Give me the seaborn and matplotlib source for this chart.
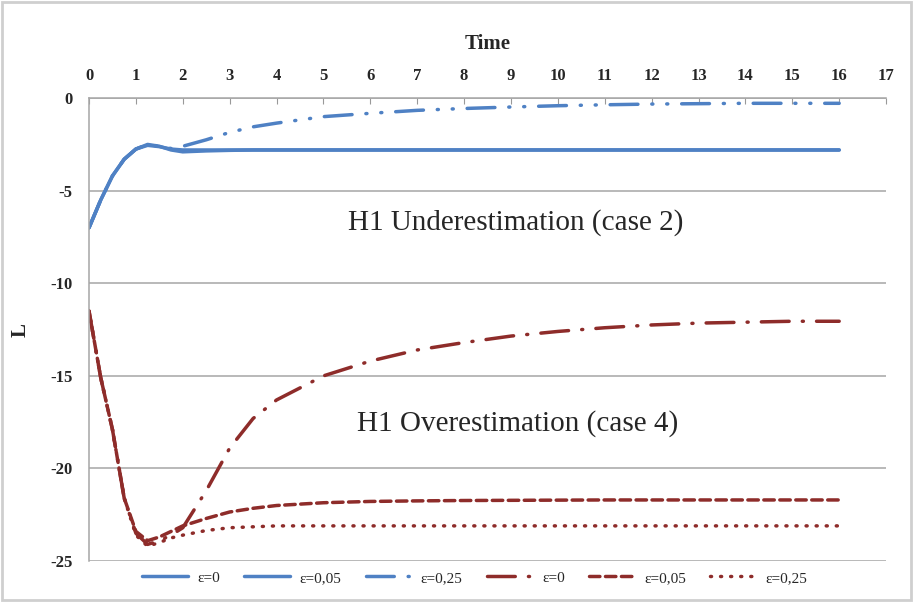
import pandas as pd
import matplotlib.pyplot as plt
import seaborn as sns
from matplotlib.patches import Rectangle

sns.set_style("white")
plt.rcParams['font.family'] = ['Liberation Serif', 'DejaVu Serif']
plt.rcParams['axes.unicode_minus'] = False

# values
time_pts = [0, 0.25, 0.5, 0.75, 1.0, 1.25, 1.5, 1.75, 2, 2.5, 3, 3.5, 4,
            5, 6, 7, 8, 9, 10, 11, 12, 13, 14, 15, 16]

under_eps0 = [-7.0, -5.5, -4.2, -3.3, -2.75, -2.5, -2.6, -2.8, -2.9, -2.85, -2.82, -2.8, -2.8,
              -2.8, -2.8, -2.8, -2.8, -2.8, -2.8, -2.8, -2.8, -2.8, -2.8, -2.8, -2.8]
under_eps005 = [-7.0, -5.5, -4.2, -3.3, -2.75, -2.55, -2.62, -2.75, -2.8, -2.8, -2.8, -2.8, -2.8,
                -2.8, -2.8, -2.8, -2.8, -2.8, -2.8, -2.8, -2.8, -2.8, -2.8, -2.8, -2.8]
under_eps025 = [-7.0, -5.5, -4.2, -3.3, -2.75, -2.5, -2.6, -2.72, -2.6, -2.25, -1.85, -1.55, -1.35,
                -1.0, -0.82, -0.66, -0.56, -0.48, -0.41, -0.36, -0.32, -0.3, -0.28, -0.28, -0.28]

over_eps0 = [-11.5, -15.1, -17.9, -21.6, -23.5, -24.1, -23.9, -23.6, -23.2, -21.2, -18.9, -17.3, -16.3,
             -15.0, -14.2, -13.6, -13.2, -12.85, -12.6, -12.4, -12.25, -12.15, -12.1, -12.05, -12.05]
over_eps005 = [-11.5, -15.1, -17.9, -21.6, -23.4, -23.9, -23.7, -23.4, -23.1, -22.7, -22.35, -22.15, -22.0,
               -21.85, -21.78, -21.75, -21.73, -21.72, -21.71, -21.7, -21.7, -21.7, -21.7, -21.7, -21.7]
over_eps025 = [-11.5, -15.1, -17.9, -21.6, -23.6, -24.2, -24.0, -23.75, -23.6, -23.35, -23.2, -23.15, -23.1,
               -23.1, -23.1, -23.1, -23.1, -23.1, -23.1, -23.1, -23.1, -23.1, -23.1, -23.1, -23.1]

legend_labels = ["ε=0", "ε=0,05", "ε=0,25", "ε=0", "ε=0,05", "ε=0,25"]
x_ticks = list(range(0, 18))
y_ticks = [0, -5, -10, -15, -20, -25]

blue = '#4f81c4'
red = '#8e2c2a'

series = [
    (under_eps0, blue, '-'),
    (under_eps005, blue, '-'),
    (under_eps025, blue, (0, (8, 4, 0.3, 4, 0.3, 4))),
    (over_eps0, red, (0, (8, 3.8, 0.3, 3.8))),
    (over_eps005, red, (0, (3, 1.6))),
    (over_eps025, red, (0, (0.3, 2.6))),
]

fig = plt.figure(figsize=(9.13, 6.02), dpi=100)
ax = fig.add_axes([0.0975, 0.068, 0.873, 0.769])

for (vals, col, ls), lab in zip(series, legend_labels):
    df = pd.DataFrame({"Time": time_pts, "L": vals})
    sns.lineplot(data=df, x="Time", y="L", ax=ax, color=col, linestyle=ls,
                 linewidth=2.5, label=lab, legend=False,
                 dash_capstyle='round', solid_capstyle='round')

ax.set_xlim(0, 17)
ax.set_ylim(-25, 0)
ax.set_xticks(x_ticks)
ax.set_yticks(y_ticks)
ax.xaxis.tick_top()
ax.xaxis.set_label_position('top')
ax.set_xlabel("Time", fontsize=15, fontweight='bold', labelpad=14)
ax.set_ylabel("L", fontsize=15, fontweight='bold', labelpad=14)
ax.tick_params(axis='x', direction='in', length=4, color='#999999', pad=10, labelsize=12)
ax.tick_params(axis='y', direction='out', length=6, color='#999999', pad=6, labelsize=12)
for lbl in ax.get_xticklabels() + ax.get_yticklabels():
    lbl.set_fontweight('bold')

ax.yaxis.grid(True, color='#a6a6a6', linewidth=1.1)
ax.xaxis.grid(False)
for side in ['right', 'bottom']:
    ax.spines[side].set_visible(False)
for side in ['top', 'left']:
    ax.spines[side].set_color('#a6a6a6')
    ax.spines[side].set_linewidth(1.1)

ax.text(9.1, -6.7, "H1 Underestimation (case 2)", fontsize=21, ha='center', va='center')
ax.text(9.14, -17.55, "H1 Overestimation (case 4)", fontsize=21, ha='center', va='center')

handles, labels = ax.get_legend_handles_labels()
fig.legend(handles, labels, loc='center', bbox_to_anchor=(0.52, 0.04), ncol=6,
           frameon=False, fontsize=11, handlelength=3, columnspacing=1.6, handletextpad=0.6)

fig.patches.append(Rectangle((0.002, 0.003), 0.996, 0.994, transform=fig.transFigure,
                             fill=False, edgecolor='#cfcfcf', linewidth=2))

fig.savefig("out.png", dpi=100)
